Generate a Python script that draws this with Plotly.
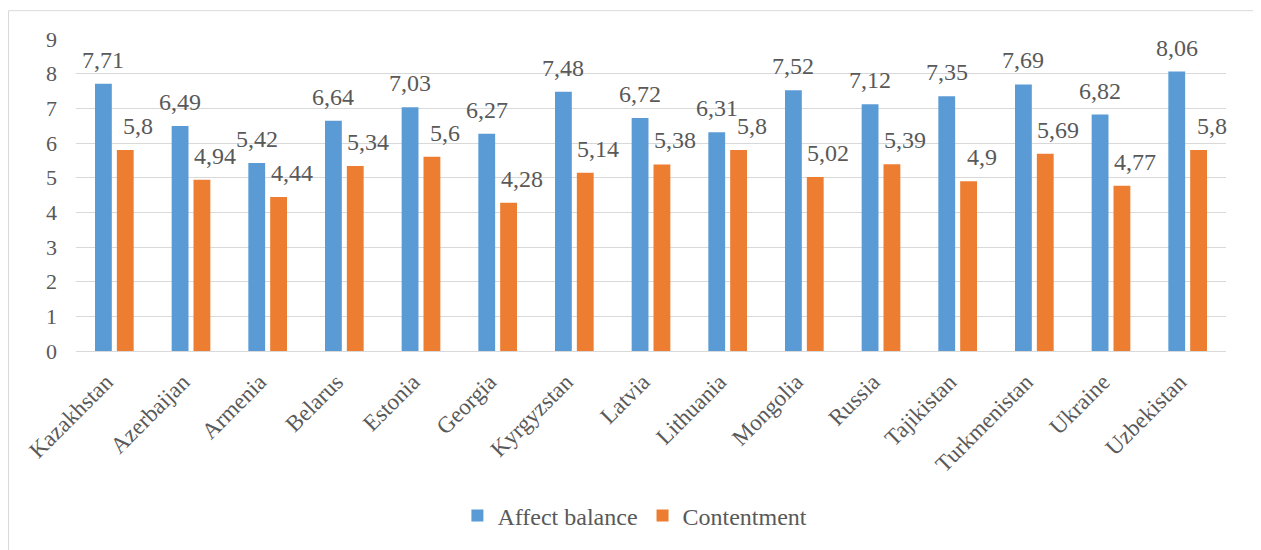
import plotly.graph_objects as go
import numpy as np

countries = ["Kazakhstan", "Azerbaijan", "Armenia", "Belarus", "Estonia", "Georgia",
             "Kyrgyzstan", "Latvia", "Lithuania", "Mongolia", "Russia", "Tajikistan",
             "Turkmenistan", "Ukraine", "Uzbekistan"]
affect_balance = [7.71, 6.49, 5.42, 6.64, 7.03, 6.27, 7.48, 6.72, 6.31, 7.52, 7.12, 7.35, 7.69, 6.82, 8.06]
contentment = [5.8, 4.94, 4.44, 5.34, 5.6, 4.28, 5.14, 5.38, 5.8, 5.02, 5.39, 4.9, 5.69, 4.77, 5.8]
y_ticks = [0, 1, 2, 3, 4, 5, 6, 7, 8, 9]

BLUE = "#5B9BD5"
ORANGE = "#ED7D31"
TXT = "#595959"
FONT = "Liberation Serif, Times New Roman, Times, DejaVu Serif, serif"

bargap = 0.43
bargroupgap = 0.23
half_slot = (1 - bargap) / 4  # center offset of each bar in a 2-bar group

x = np.arange(len(countries))

def fmt(v):
    s = f"{v:.2f}".rstrip("0").rstrip(".")
    return s.replace(".", ",")

fig = go.Figure()
fig.add_trace(go.Bar(x=x, y=affect_balance, name="Affect balance", marker_color=BLUE,
                     marker_line_width=0))
fig.add_trace(go.Bar(x=x, y=contentment, name="Contentment", marker_color=ORANGE,
                     marker_line_width=0))

annotations = []
for i, v in enumerate(affect_balance):
    annotations.append(dict(x=i - half_slot, y=v, text=fmt(v), showarrow=False,
                            xref="x", yref="y", yanchor="bottom", yshift=9,
                            font=dict(family=FONT, size=24, color=TXT)))
for i, v in enumerate(contentment):
    annotations.append(dict(x=i + half_slot, y=v, text=fmt(v), showarrow=False,
                            xref="x", yref="y", yanchor="bottom", yshift=9, xshift=13,
                            font=dict(family=FONT, size=24, color=TXT)))

# page has an 8px body margin; figure spans page x 8..1261, y 8..550
OFF = 8
W, H = 1261 - OFF, 550 - OFF
L, T = 76 - OFF, 39 - OFF
pw, ph = 1150, 314
R, B = W - L - pw, H - T - ph
yb = T + ph  # figure y of the zero line

fig.update_layout(
    width=W, height=H,
    margin=dict(l=L, r=R, t=T, b=B),
    paper_bgcolor="white", plot_bgcolor="white",
    barmode="group", bargap=bargap, bargroupgap=bargroupgap,
    font=dict(family=FONT, color=TXT, size=22),
    showlegend=True,
    legend=dict(orientation="h", x=0.486, xanchor="center",
                y=(yb - (519 - OFF)) / ph, yanchor="middle",
                font=dict(family=FONT, size=24, color=TXT),
                itemwidth=30, traceorder="normal"),
    annotations=annotations,
    shapes=[dict(type="rect", xref="paper", yref="paper",
                 x0=(0.5 - L) / pw, x1=(1254.5 - OFF - L) / pw,
                 y0=(yb - 560) / ph, y1=(yb - 2.5) / ph,
                 line=dict(color="#D9D9D9", width=1), fillcolor="rgba(0,0,0,0)",
                 layer="below")],
)
fig.update_xaxes(range=[-0.5, len(countries) - 0.5], tickmode="array", tickvals=x,
                 ticktext=countries, tickangle=-45, showgrid=False, zeroline=False,
                 showline=False, ticks="", ticklabelstandoff=12, ticklabelshift=-8,
                 tickfont=dict(family=FONT, size=23, color=TXT))
fig.update_yaxes(range=[0, 9], tickmode="array", tickvals=y_ticks, showgrid=True,
                 gridcolor="#D9D9D9", gridwidth=1, zeroline=True, zerolinecolor="#D9D9D9",
                 zerolinewidth=1, showline=False, ticks="", ticklabelstandoff=18,
                 tickfont=dict(family=FONT, size=22, color=TXT))

fig.write_html("out.html")
